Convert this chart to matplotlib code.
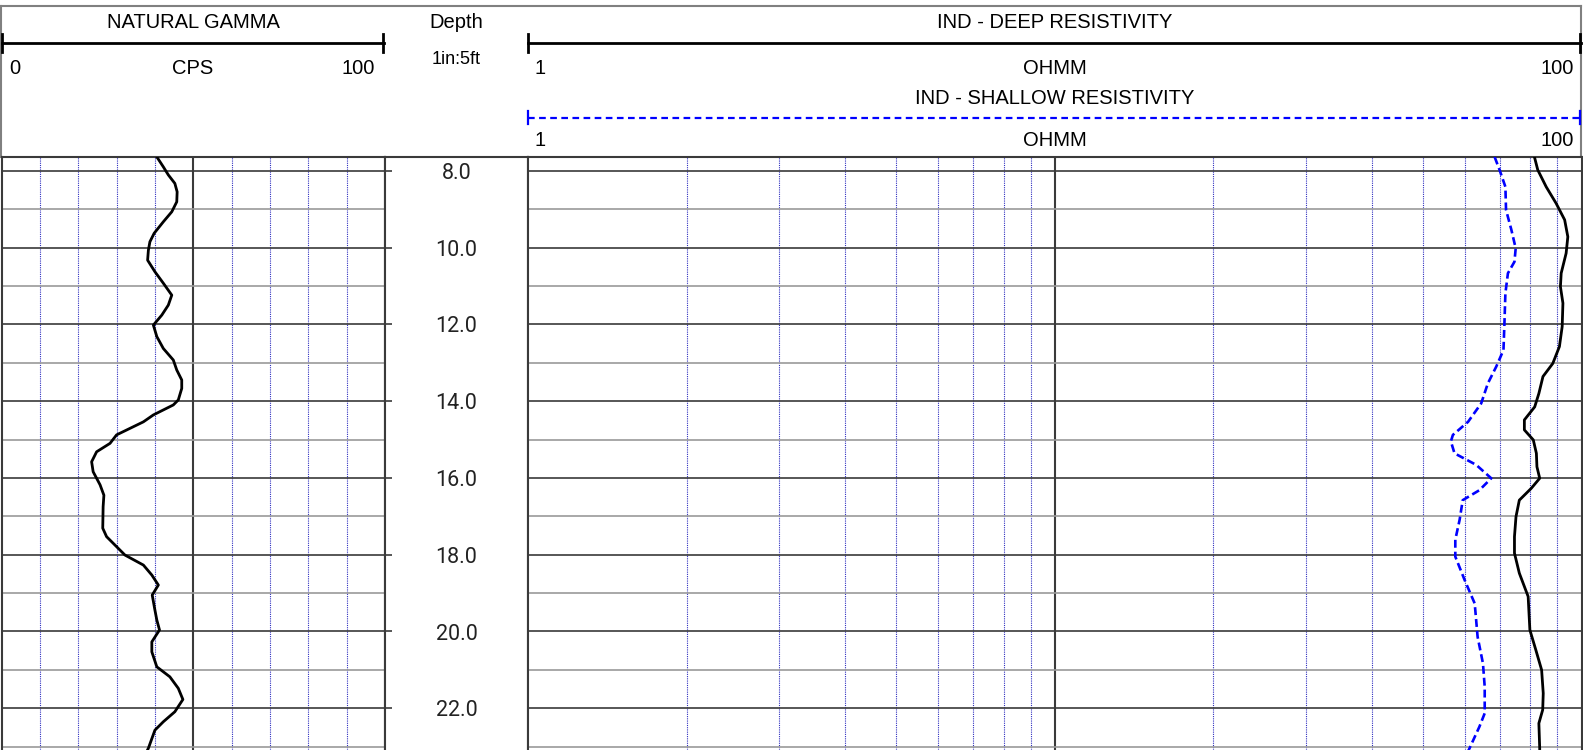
import numpy as np
import matplotlib.pyplot as plt

# Values (depth in ft)
gr_depth = [7.64, 7.90, 8.11, 8.33, 8.55, 8.81, 9.07, 9.33, 9.63, 9.85, 10.07, 10.33,
            10.63, 10.93, 11.24, 11.50, 11.76, 12.02, 12.32, 12.63, 12.93, 13.19, 13.45,
            13.67, 13.97, 14.10, 14.36, 14.54, 14.71, 14.88, 15.10, 15.32, 15.58, 15.84,
            16.01, 16.18, 16.45, 16.75, 17.31, 17.53, 17.79, 18.01, 18.27, 18.53, 18.79,
            19.05, 19.44, 19.70, 19.96, 20.27, 20.53, 20.92, 21.18, 21.48, 21.77, 22.09,
            22.35, 22.57, 23.04, 23.10]
gr_cps = [40.5, 42.2, 43.5, 45.2, 45.8, 45.7, 44.4, 42.2, 39.8, 38.7, 38.3, 38.1,
          40.0, 42.2, 44.4, 43.5, 41.8, 39.6, 40.5, 42.2, 44.8, 45.7, 47.0,
          47.0, 46.1, 44.8, 39.6, 37.0, 33.5, 30.0, 28.3, 24.8, 23.5, 23.9,
          24.8, 25.7, 26.7, 26.5, 26.4, 27.4, 30.0, 32.2, 37.0, 39.2, 40.9,
          39.3, 40.0, 40.5, 41.2, 39.2, 39.2, 40.5, 43.9, 46.1, 47.3, 45.2,
          42.2, 40.0, 38.3, 38.0]

deep_depth = [7.64, 7.98, 8.42, 8.85, 9.28, 9.72, 10.15, 10.67, 11.02, 11.45, 12.06,
              12.58, 13.02, 13.36, 13.80, 14.15, 14.49, 14.75, 15.01, 15.36, 15.71,
              16.01, 16.27, 16.58, 17.01, 17.53, 17.96, 18.48, 19.09, 19.53, 19.96,
              20.48, 21.00, 21.61, 22.04, 22.39, 23.04, 23.10]
deep_ohmm = [81.4, 82.6, 85.7, 89.5, 92.9, 94.2, 93.5, 91.5, 91.2, 92.2, 91.9,
             90.8, 88.2, 84.5, 83.0, 81.5, 77.9, 77.9, 81.0, 82.1, 82.3,
             83.3, 80.3, 76.2, 75.1, 74.6, 74.6, 76.2, 79.2, 79.5, 79.8,
             81.9, 84.0, 84.6, 84.4, 83.0, 83.3, 83.3]

shal_depth = [7.64, 7.98, 8.42, 9.02, 9.54, 10.02, 10.37, 10.67, 11.19, 11.97, 12.67,
              13.10, 13.54, 14.06, 14.54, 14.88, 15.05, 15.36, 15.66, 16.01, 16.32,
              16.58, 17.09, 17.61, 18.05, 18.66, 19.27, 20.14, 20.83, 21.44, 22.13,
              22.48, 23.04, 23.10]
shal_ohmm = [68.4, 69.9, 71.7, 71.9, 73.6, 75.0, 74.6, 72.5, 71.7, 71.4, 71.1,
             68.9, 66.4, 64.5, 60.9, 57.0, 56.5, 57.4, 63.1, 67.4, 64.0,
             59.5, 58.7, 57.6, 57.6, 60.0, 62.7, 63.5, 65.0, 65.5, 65.5,
             64.0, 61.3, 61.0]

depth_top, depth_bot = 7.643, 23.086
grid_depths = list(range(8, 24))
label_depths = list(range(8, 23, 2))

W, H = 1583, 750
fig = plt.figure(figsize=(W / 100, H / 100), dpi=100)
HFONT = "Liberation Sans"
HSIZE = 14.5
DARK = "#3a3a3a"
LIGHT = "#9a9a9a"
BLUEGRID = "#3030c0"


def px_axes(x0, y0, x1, y1):
    return fig.add_axes([x0 / W, 1 - y1 / H, (x1 - x0) / W, (y1 - y0) / H])


def style_track(ax):
    ax.set_ylim(depth_bot, depth_top)
    ax.set_xticks([])
    ax.set_yticks([])
    ax.minorticks_off()
    for s in ["left", "right", "top"]:
        ax.spines[s].set_color(DARK)
        ax.spines[s].set_linewidth(1.5)
    ax.spines["bottom"].set_visible(False)


def depth_grid(ax):
    for d in grid_depths:
        if d % 2 == 0:
            ax.axhline(d, color=DARK, lw=1.2, zorder=1)
        else:
            ax.axhline(d, color=LIGHT, lw=1.2, zorder=1)


def htext(x, y, s, ha="center", size=HSIZE):
    hd.text(x, y, s, ha=ha, va="center", fontsize=size, family=HFONT)


# header (pixel coordinates)
hd = fig.add_axes([0, 0, 1, 1])
hd.set_xlim(0, W)
hd.set_ylim(H, 0)
hd.axis("off")
hd.plot([1.5, 1581.5], [5.5, 5.5], color="#808080", lw=1.5)
hd.plot([1.5, 1.5], [5.5, 157], color="#808080", lw=1.5)
hd.plot([1581.5, 1581.5], [5.5, 157], color="#808080", lw=1.5)

# gamma header
htext(193, 23, "NATURAL GAMMA")
hd.plot([2, 384], [42.7, 42.7], color="black", lw=2)
hd.plot([2.5, 2.5], [34, 52], color="black", lw=2)
hd.plot([383.5, 383.5], [34, 52], color="black", lw=2)
htext(9, 69, "0", ha="left")
htext(193, 69, "CPS")
htext(375, 69, "100", ha="right")

# depth header
htext(456.5, 23, "Depth")
htext(456.5, 60, "1in:5ft", size=13)

# resistivity header
htext(1055, 22, "IND - DEEP RESISTIVITY")
hd.plot([528, 1581], [42.7, 42.7], color="black", lw=2)
hd.plot([528.5, 528.5], [34, 52], color="black", lw=2)
hd.plot([1580.5, 1580.5], [34, 52], color="black", lw=2)
htext(535, 69, "1", ha="left")
htext(1055, 69, "OHMM")
htext(1574, 69, "100", ha="right")
htext(1055, 98, "IND - SHALLOW RESISTIVITY")
hd.plot([528, 1581], [117.5, 117.5], color="blue", lw=1.6, ls=(0, (3, 2)))
hd.plot([528.5, 528.5], [111, 124], color="blue", lw=1.6)
hd.plot([1580.5, 1580.5], [111, 124], color="blue", lw=1.6)
htext(535, 141, "1", ha="left")
htext(1055, 141, "OHMM")
htext(1574, 141, "100", ha="right")

# gamma track
ax_gr = px_axes(1.5, 157, 385, 750)
ax_gr.set_xlim(0, 100)
style_track(ax_gr)
for v in range(10, 100, 10):
    if v == 50:
        ax_gr.axvline(v, color=DARK, lw=1.5, zorder=1)
    else:
        ax_gr.axvline(v, color=BLUEGRID, lw=0.8, ls=(0, (1, 1)), zorder=1)
depth_grid(ax_gr)
ax_gr.plot(gr_cps, gr_depth, color="black", lw=2.0, zorder=3,
           solid_joinstyle="round")

# depth track
ax_d = px_axes(385, 157, 528, 750)
ax_d.set_xlim(0, 1)
style_track(ax_d)
ax_d.hlines(label_depths, 0, 0.05, color=DARK, lw=1.2)
for d in label_depths:
    ax_d.text(0.5, d + 0.07, f"{d:.1f}", ha="center", va="center", fontsize=15.5,
              family="Roboto", color="#222222")

# resistivity track
ax_r = px_axes(528, 157, 1581.5, 750)
ax_r.set_xscale("log")
ax_r.set_xlim(1, 100)
style_track(ax_r)
for dec in [1, 10]:
    for m in range(2, 10):
        ax_r.axvline(m * dec, color=BLUEGRID, lw=0.8, ls=(0, (1, 1)), zorder=1)
ax_r.axvline(10, color=DARK, lw=1.5, zorder=1)
depth_grid(ax_r)
ax_r.plot(shal_ohmm, shal_depth, color="blue", lw=1.9, ls=(0, (3, 1.5)), zorder=3)
ax_r.plot(deep_ohmm, deep_depth, color="black", lw=2.0, zorder=3,
          solid_joinstyle="round")

fig.savefig("out.png", dpi=100)
